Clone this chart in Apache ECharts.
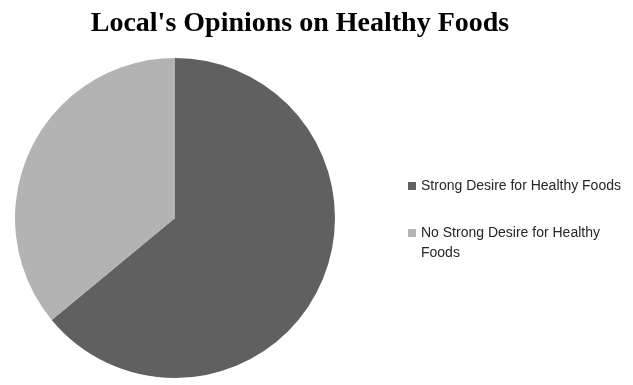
<!DOCTYPE html>
<html><head><meta charset="utf-8">
<script src="https://cdn.jsdelivr.net/npm/echarts@6/dist/echarts.min.js"></script>
<style>html,body{margin:0;padding:0;background:#fff}#c{width:633px;height:385px}</style>
</head><body><div id="c"></div>
<script>
const titleText = "Local's Opinions on Healthy Foods";
const categories = ["Strong Desire for Healthy Foods", "No Strong Desire for Healthy Foods"];
const values = [64, 36];
const colors = ["#606060", "#b3b3b3"];

function wrap(name, maxChars) {
  if (name.length <= maxChars) return name;
  const cut = name.lastIndexOf(' ', maxChars);
  // leading empty line keeps the marker level with the first text line
  return '\n' + name.slice(0, cut) + '\n' + name.slice(cut + 1);
}

const chart = echarts.init(document.getElementById('c'));
chart.setOption({
  animation: false,
  title: {
    text: titleText,
    left: 295, top: 5, textAlign: 'center',
    textStyle: { fontFamily: 'Liberation Serif', fontWeight: 'bold', fontSize: 28, color: '#000' }
  },
  legend: {
    orient: 'vertical',
    left: 403, top: 171,
    icon: 'rect', itemWidth: 8, itemHeight: 8, itemGap: 7,
    formatter: n => wrap(n, 31),
    textStyle: { fontFamily: 'Liberation Sans', fontSize: 14, color: '#262626', lineHeight: 20 },
    data: categories
  },
  series: [{
    type: 'pie',
    center: [175, 218],
    radius: 160,
    startAngle: 90,
    clockwise: true,
    label: { show: false },
    labelLine: { show: false },
    emphasis: { disabled: true },
    itemStyle: { borderWidth: 0 },
    data: categories.map((n, i) => ({ name: n, value: values[i], itemStyle: { color: colors[i] } }))
  }]
});
</script></body></html>
